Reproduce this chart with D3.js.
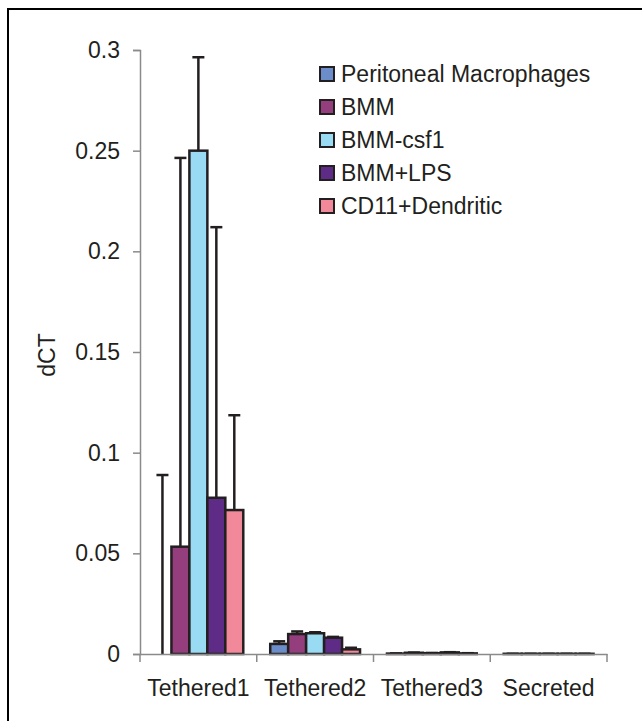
<!DOCTYPE html>
<html>
<head>
<meta charset="utf-8">
<script src="https://cdn.jsdelivr.net/npm/d3@7"></script>
<style>
  html, body { margin: 0; padding: 0; background: #fff; }
  svg { display: block; }
  text { font-family: "Liberation Sans", Arial, sans-serif; fill: #231f20; }
</style>
</head>
<body>
<div id="chart"></div>
<script>
// categories along the x axis
const categories = ["Tethered1", "Tethered2", "Tethered3", "Secreted"];
// one entry per cell type (legend order)
const seriesNames = ["Peritoneal Macrophages", "BMM", "BMM-csf1", "BMM+LPS", "CD11+Dendritic"];
const seriesColors = ["#6b8dc9", "#943e7e", "#9adbf4", "#5e2c86", "#f2899a"];

// mean dCT, rows follow seriesNames, columns follow categories
const peritonealValues = [0.0,    0.0050, 0.0002, 0.0001];
const bmmValues        = [0.0533, 0.0099, 0.0006, 0.0001];
const csf1Values       = [0.2500, 0.0103, 0.0004, 0.0001];
const lpsValues        = [0.0776, 0.0081, 0.0008, 0.0001];
const cd11Values       = [0.0715, 0.0023, 0.0003, 0.0001];

// top of each error bar
const peritonealErr = [0.0889, 0.0063, 0.0003, 0.0001];
const bmmErr        = [0.2464, 0.0112, 0.0007, 0.0001];
const csf1Err       = [0.2964, 0.0108, 0.0005, 0.0001];
const lpsErr        = [0.2120, 0.0085, 0.0009, 0.0001];
const cd11Err       = [0.1186, 0.0031, 0.0004, 0.0001];

const yTicks = [0, 0.05, 0.1, 0.15, 0.2, 0.25, 0.3];

const values = [peritonealValues, bmmValues, csf1Values, lpsValues, cd11Values];
const errTops = [peritonealErr, bmmErr, csf1Err, lpsErr, cd11Err];

const WIDTH = 642, HEIGHT = 721;
const LEFT = 140, RIGHT = 607, TOP = 50, BOTTOM = 654;
const INK = "#231f20";

const svg = d3.select("#chart")
              .append("svg")
              .attr("width", WIDTH)
              .attr("height", HEIGHT);

// frame (top and left edges of the figure panel)
svg.append("path")
   .attr("d", "M8," + HEIGHT + "V9H" + WIDTH)
   .attr("fill", "none")
   .attr("stroke", "#000")
   .attr("stroke-width", 2);

const x0 = d3.scaleBand().domain(categories).range([LEFT, RIGHT]).padding(0);
const x1 = d3.scaleBand().domain(seriesNames).range([0, x0.bandwidth()])
             .paddingInner(0).paddingOuter(0.75);
const y = d3.scaleLinear().domain([0, 0.3]).range([BOTTOM, TOP]);

// y axis
const yAxis = svg.append("g")
   .attr("transform", "translate(" + LEFT + ",0)")
   .call(d3.axisLeft(y).tickValues(yTicks).tickSize(7).tickPadding(13)
           .tickFormat(d => String(+d.toFixed(2))));
yAxis.select(".domain").attr("stroke", "#8a8a8a").attr("stroke-width", 1.5);
yAxis.selectAll(".tick line").attr("stroke", "#8a8a8a").attr("stroke-width", 1.5);
yAxis.selectAll("text").attr("font-size", 23).attr("fill", INK)
     .style("font-family", "'Liberation Sans', Arial, sans-serif");

// bars
const groups = svg.selectAll("g.cat")
   .data(categories)
   .enter()
   .append("g")
   .attr("class", "cat")
   .attr("transform", c => "translate(" + x0(c) + ",0)");

const cells = groups.selectAll("g.cell")
   .data((c, ci) => seriesNames.map((s, si) => ({ s: s, si: si, v: values[si][ci], e: errTops[si][ci] })))
   .enter()
   .append("g");

// error bars (upper only) drawn behind the bars
cells.append("line")
   .attr("x1", d => x1(d.s) + x1.bandwidth() / 2)
   .attr("x2", d => x1(d.s) + x1.bandwidth() / 2)
   .attr("y1", d => y(d.v))
   .attr("y2", d => y(d.e))
   .attr("stroke", INK)
   .attr("stroke-width", 2.5);
cells.append("line")
   .attr("x1", d => x1(d.s) + x1.bandwidth() / 2 - 6)
   .attr("x2", d => x1(d.s) + x1.bandwidth() / 2 + 6)
   .attr("y1", d => y(d.e))
   .attr("y2", d => y(d.e))
   .attr("stroke", INK)
   .attr("stroke-width", 2.5);

cells.append("rect")
   .attr("x", d => x1(d.s))
   .attr("y", d => y(d.v))
   .attr("width", x1.bandwidth())
   .attr("height", d => y(0) - y(d.v))
   .attr("fill", d => seriesColors[d.si])
   .attr("stroke", INK)
   .attr("stroke-width", 2.5);

// x axis: line with ticks on the category boundaries
const xAxis = svg.append("g")
   .attr("transform", "translate(0," + BOTTOM + ")")
   .call(d3.axisBottom(x0).tickSize(0).tickPadding(26));
xAxis.select(".domain").attr("stroke", "#8a8a8a").attr("stroke-width", 1.5);
xAxis.selectAll("text").attr("font-size", 23).attr("fill", INK)
     .style("font-family", "'Liberation Sans', Arial, sans-serif");
const edges = categories.map(c => x0(c)).concat([x0(categories[categories.length - 1]) + x0.bandwidth()]);
xAxis.selectAll("line.edge")
   .data(edges)
   .enter()
   .append("line")
   .attr("class", "edge")
   .attr("x1", d => d).attr("x2", d => d)
   .attr("y1", 0).attr("y2", 8)
   .attr("stroke", "#8a8a8a")
   .attr("stroke-width", 1.5);

// y label
svg.append("text")
   .attr("transform", "translate(55,355) rotate(-90)")
   .attr("text-anchor", "middle")
   .attr("font-size", 23)
   .text("dCT");

// legend
const legend = svg.append("g").attr("transform", "translate(320,74)");
const rows = legend.selectAll("g")
   .data(seriesNames)
   .enter()
   .append("g")
   .attr("transform", (d, i) => "translate(0," + i * 33 + ")");
rows.append("rect")
   .attr("x", 0).attr("y", -7)
   .attr("width", 14).attr("height", 14)
   .attr("fill", (d, i) => seriesColors[i])
   .attr("stroke", INK)
   .attr("stroke-width", 2);
rows.append("text")
   .attr("x", 21)
   .attr("y", 8)
   .attr("font-size", 23)
   .text(d => d);
</script>
</body>
</html>
